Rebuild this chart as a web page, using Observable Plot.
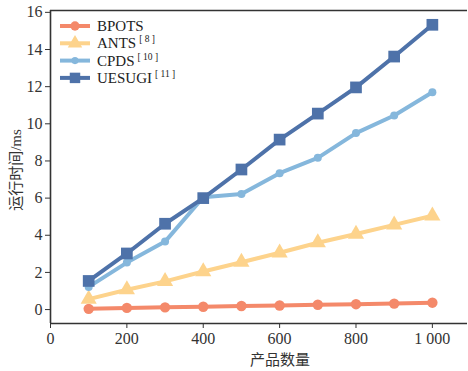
<!DOCTYPE html>
<html><head><meta charset="utf-8">
<script src="https://cdn.jsdelivr.net/npm/d3@7"></script>
<script src="https://cdn.jsdelivr.net/npm/@observablehq/plot@0.6"></script>
<style>body{margin:0;background:#fff}</style>
</head><body><div id="chart"></div>
<script>
const productCounts = [100, 200, 300, 400, 500, 600, 700, 800, 900, 1000];
const bpots  = [0.04, 0.09, 0.12, 0.15, 0.19, 0.22, 0.26, 0.29, 0.32, 0.37];
const ants   = [0.56, 1.07, 1.52, 2.05, 2.55, 3.06, 3.6, 4.07, 4.56, 5.05];
const cpds   = [1.22, 2.53, 3.66, 6.05, 6.22, 7.34, 8.17, 9.5, 10.45, 11.7];
const uesugi = [1.54, 3.02, 4.62, 6.0, 7.54, 9.15, 10.55, 11.96, 13.62, 15.33];
const seriesNames = ["BPOTS", "ANTS", "CPDS", "UESUGI"];
const seriesRefs = ["", "8", "10", "11"];
const seriesValues = [bpots, ants, cpds, uesugi];
const seriesColors = ["#f4896a", "#fdd38c", "#85b7dc", "#4e72a9"];
const seriesSymbols = ["circle", "triangle", "circle", "square"];
const seriesRadius = [5.2, 6, 4, 6.6];
const yTicks = [0, 2, 4, 6, 8, 10, 12, 14, 16];
const xTicks = [0, 200, 400, 600, 800, 1000];
const xTickLabels = ["0", "200", "400", "600", "800", "1 000"];
const xTitle = "产品数量";
const yTitle = "运行时间/ms";

const serif = "'Liberation Serif','Noto Sans CJK SC',serif";
const axisColor = "#333";

const rows = seriesNames.flatMap((name, i) =>
  productCounts.map((x, j) => ({series: name, x, y: seriesValues[i][j]})));

const marks = [
  Plot.ruleY([-0.75], {stroke: axisColor, strokeWidth: 1.6}),
  Plot.ruleY([16.1], {stroke: axisColor, strokeWidth: 1.6}),
  Plot.ruleX([0], {stroke: axisColor, strokeWidth: 1.6}),
  Plot.axisY(yTicks, {tickSize: 5, tickPadding: 3, stroke: axisColor, fill: "#333", fontSize: 16, label: null}),
  Plot.axisX(xTicks, {tickSize: 5, tickPadding: 4, stroke: axisColor, fill: "#333", fontSize: 16, label: null,
    tickFormat: (d) => xTickLabels[xTicks.indexOf(d)]})
];
seriesNames.forEach((name, i) => {
  const d = rows.filter(r => r.series === name);
  marks.push(Plot.line(d, {x: "x", y: "y", stroke: seriesColors[i], strokeWidth: 4}));
  marks.push(Plot.dot(d, {x: "x", y: "y", symbol: seriesSymbols[i], r: seriesRadius[i], fill: seriesColors[i], stroke: "none"}));
});

const chart = Plot.plot({
  width: 468, height: 371,
  marginLeft: 50, marginRight: 1, marginTop: 10, marginBottom: 48,
  style: {fontFamily: serif, fontSize: "16px", background: "#fff"},
  x: {domain: [0, 1092]},
  y: {domain: [-0.75, 16.1]},
  marks
});
document.getElementById("chart").appendChild(chart);

const svg = d3.select(chart);
// axis titles
svg.append("text").attr("x", 280).attr("y", 365).attr("text-anchor", "middle")
  .attr("font-family", serif).attr("font-size", 15).attr("fill", "#333").text(xTitle);
svg.append("text").attr("transform", "translate(20.5,170) rotate(-90)").attr("text-anchor", "middle")
  .attr("font-family", serif).attr("font-size", 15).attr("fill", "#333").text(yTitle);

// legend inside the plot, top-left
const lg = svg.append("g").attr("font-family", serif).attr("fill", "#222").attr("text-anchor", "start");
seriesNames.forEach((name, i) => {
  const cy = 26 + i * 17.3;
  const g = lg.append("g").attr("transform", `translate(0,${cy})`);
  g.append("line").attr("x1", 60).attr("x2", 90).attr("y1", 0).attr("y2", 0)
    .attr("stroke", seriesColors[i]).attr("stroke-width", 4);
  const sym = {circle: d3.symbolCircle, triangle: d3.symbolTriangle, square: d3.symbolSquare}[seriesSymbols[i]];
  g.append("path").attr("transform", "translate(75,0)")
    .attr("d", d3.symbol(sym, Math.PI * seriesRadius[i] ** 2 * 0.8)())
    .attr("fill", seriesColors[i]);
  const t = g.append("text").attr("x", 97).attr("y", 5).attr("font-size", 15).text(name);
  if (seriesRefs[i]) {
    t.append("tspan").attr("dx", 3).attr("dy", -6).attr("font-size", 9.5).text(`[ ${seriesRefs[i]} ]`);
  }
});
</script></body></html>
